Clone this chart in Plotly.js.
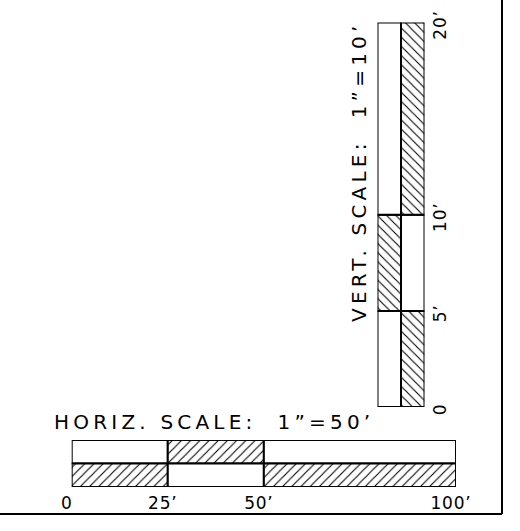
<!DOCTYPE html>
<html>
<head>
<meta charset="utf-8">
<script src="https://cdn.plot.ly/plotly-3.0.1.min.js"></script>
<style>
html,body{margin:0;padding:0;background:#fff;}
#chart{width:520px;height:531px;}
text.annotation-text{letter-spacing:4.2px;}
g.xtick text, g.y2tick text{letter-spacing:0.8px;}
</style>
</head>
<body>
<div id="chart"></div>
<script>
// Horizontal scale (feet)
const hStarts = [0, 25, 50];
const hLengths = [25, 25, 50];
const hTopPattern = ['', '/', ''];
const hBottomPattern = ['/', '', '/'];
const hTickVals = [0, 25, 50, 100];
const hTickText = ['0', '25’', '50’', '100’'];
const hTitle = 'HORIZ. SCALE:  1”=50’';

// Vertical scale (feet)
const vStarts = [0, 5, 10];
const vLengths = [5, 5, 10];
const vLeftPattern = ['', '\\', ''];
const vRightPattern = ['\\', '', '\\'];
const vTickVals = [0, 5, 10, 20];
const vTickText = ['0', '5’', '10’', '20’'];
const vTitle = 'VERT. SCALE:  1”=10’';

const FONT = 'DejaVu Sans, Verdana, sans-serif';

function pat(shapes) {
  return {shape: shapes, fgcolor: '#000', bgcolor: '#fff', size: 6.5, solidity: 0.17, fillmode: 'replace'};
}
function hRow(name, patterns) {
  return {type: 'bar', orientation: 'h', y: hStarts.map(() => name), x: hLengths, base: hStarts,
    width: 1, xaxis: 'x', yaxis: 'y', hoverinfo: 'skip', showlegend: false,
    marker: {color: '#fff', line: {color: '#000', width: 2}, pattern: pat(patterns)}};
}
function vCol(name, patterns) {
  return {type: 'bar', x: vStarts.map(() => name), y: vLengths, base: vStarts,
    width: 1, xaxis: 'x2', yaxis: 'y2', hoverinfo: 'skip', showlegend: false,
    marker: {color: '#fff', line: {color: '#000', width: 2}, pattern: pat(patterns)}};
}

const data = [
  hRow('top', hTopPattern), hRow('bottom', hBottomPattern),
  vCol('left', vLeftPattern), vCol('right', vRightPattern)
];

const layout = {
  width: 520, height: 531,
  margin: {l: 0, r: 0, t: 0, b: 0},
  paper_bgcolor: '#fff', plot_bgcolor: 'rgba(0,0,0,0)',
  barmode: 'overlay', bargap: 0,
  font: {family: FONT, color: '#000', size: 15},
  xaxis: {domain: [71.7/520, 456/520], range: [0, 100], anchor: 'y',
    tickvals: hTickVals, ticktext: hTickText, ticks: '', showgrid: false, zeroline: false,
    showline: false, tickfont: {size: 17}, ticklabelstandoff: 4, ticklabelshift: -5},
  yaxis: {domain: [1 - 487/531, 1 - 440/531], range: [-0.5, 1.5], anchor: 'x',
    type: 'category', categoryarray: ['bottom', 'top'], categoryorder: 'array',
    showticklabels: false, ticks: '', showgrid: false, zeroline: false, showline: false},
  xaxis2: {domain: [377.5/520, 424.5/520], range: [-0.5, 1.5], anchor: 'y2',
    type: 'category', categoryarray: ['left', 'right'], categoryorder: 'array',
    showticklabels: false, ticks: '', showgrid: false, zeroline: false, showline: false},
  yaxis2: {domain: [1 - 407/531, 1 - 22.5/531], range: [0, 20], anchor: 'x2', side: 'right',
    tickvals: vTickVals, ticktext: vTickText, tickangle: -90, ticks: '', showgrid: false,
    zeroline: false, showline: false, tickfont: {size: 17}, ticklabelstandoff: 3, ticklabelshift: 5},
  annotations: [
    {text: hTitle, xref: 'paper', yref: 'paper', x: 214/520, y: 1 - 421.5/531,
     xanchor: 'center', yanchor: 'middle', showarrow: false, font: {size: 20}},
    {text: vTitle, xref: 'paper', yref: 'paper', x: 359/520, y: 1 - 172/531, textangle: -90,
     xanchor: 'center', yanchor: 'middle', showarrow: false, font: {size: 20}}
  ],
  shapes: [
    {type: 'line', xref: 'paper', yref: 'paper', x0: 0, x1: 502/520, y0: 1 - 514/531, y1: 1 - 514/531,
     line: {color: '#000', width: 2}},
    {type: 'line', xref: 'paper', yref: 'paper', x0: 502/520, x1: 502/520, y0: 1 - 514/531, y1: 1,
     line: {color: '#000', width: 2}}
  ]
};

Plotly.newPlot('chart', data, layout, {staticPlot: true, displayModeBar: false});
</script>
</body>
</html>
